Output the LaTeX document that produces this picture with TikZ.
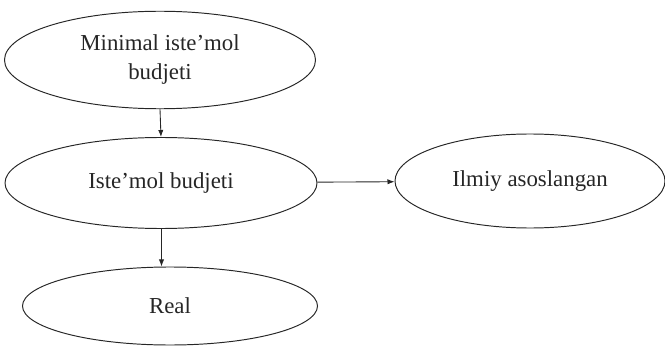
\documentclass[tikz,border=0pt]{standalone}
\usepackage{fontspec}
\setmainfont{Liberation Serif}
\usepackage{tikz}
\usetikzlibrary{shapes.geometric,arrows.meta}

\begin{document}
\begin{tikzpicture}[scale=0.2]
\tikzstyle{every node}+=[inner sep=0pt]
\tikzstyle{budget}=[draw=black!85, line width=1.1pt, ellipse, text=black!85,
  font=\fontsize{26}{33}\selectfont, align=center]
\tikzstyle{link}=[draw=black!85, line width=1pt, -{Latex[length=8pt,width=6pt]}]
\useasboundingbox (0,0) rectangle (133,-69.4);
\node [budget, minimum width=12.44cm, minimum height=3.9cm] (minimal) at (32,-12) {Minimal iste'mol\\budjeti};
\node [budget, minimum width=12.48cm, minimum height=3.64cm] (iste) at (32.2,-36.6) {Iste'mol budjeti};
\node [budget, minimum width=11.8cm, minimum height=3.12cm] (real) at (34,-61.2) {Real};
\node [budget, minimum width=10.8cm, minimum height=3.76cm] (ilmiy) at (106,-36.2) {Ilmiy asoslangan};
\draw [link] (minimal.south) -- (iste.north);
\draw [link] ([xshift=0.1cm]iste.south) -- ([xshift=0.1cm]iste.south |- real.north);
\draw [link] (iste) -- (ilmiy);
\end{tikzpicture}
\end{document}
